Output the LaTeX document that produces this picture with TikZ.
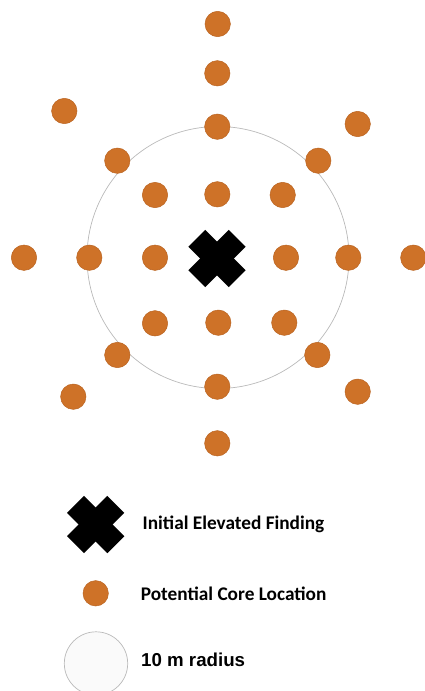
\documentclass[tikz,border=0pt]{standalone}
\usepackage{fontspec}
\usetikzlibrary{positioning}
\newfontfamily\calibrifont{Carlito}
\newfontfamily\arialfont{Liberation Sans}
\definecolor{coreorange}{RGB}{206,114,40}
\definecolor{coreedge}{RGB}{186,100,34}

\begin{document}
\begin{tikzpicture}[
  x=1pt, y=-1pt,
  core/.style={circle, draw=coreedge, fill=coreorange, line width=0.5pt, minimum size=25.4pt, inner sep=0pt},
  crossarm/.style={rectangle, fill=black, minimum width=57pt, minimum height=24pt, inner sep=0pt},
  ring/.style={circle, draw=gray!55, line width=0.7pt, inner sep=0pt},
  legtext/.style={anchor=west, inner sep=0pt, font=\calibrifont\bfseries\fontsize{19.3}{23}\selectfont}
]
\useasboundingbox (0,0) rectangle (424,691);

% 10 m radius around the finding
\node[ring, minimum size=262pt] (zone) at (218,257.5) {};

% potential core locations
\foreach \px/\py [count=\i] in {217.7/24, 217.3/73.3, 64.3/111, 217.3/126.7, 357.7/124,
    117.3/160.7, 318.3/160.7, 155/195, 217.3/194.3, 282.7/195,
    24/257.7, 89.3/257.7, 155/257.7, 286/257.7, 348.3/257.7, 413.3/257.7,
    155/323.3, 218.3/322.7, 284.3/322.7, 117.3/355, 317.3/355,
    73.3/396.7, 217.3/386.7, 357.7/391.7, 217.3/443.3}
  \node[core] (c\i) at (\px,\py) {};

% initial elevated finding
\node[crossarm, rotate=45] (findA) at (217,258.5) {};
\node[crossarm, rotate=-45] (findB) at (217,258.5) {};

% legend
\node[crossarm, rotate=45] (legA) at (95.7,524.5) {};
\node[crossarm, rotate=-45] (legB) at (95.7,524.5) {};
\node[legtext] (legfind) at (142.5,524.5) {Initial Elevated Finding};

\node[core] (legcore) at (95.7,593.3) {};
\node[legtext] (legloc) at (140.7,593.3) {Potential Core Location};

\node[ring, fill=gray!4, minimum size=63.4pt] (legring) at (96,663.5) {};
\node[legtext, font=\arialfont\bfseries\fontsize{18.7}{22}\selectfont] (legrad) at (141,660) {10 m radius};
\end{tikzpicture}
\end{document}
